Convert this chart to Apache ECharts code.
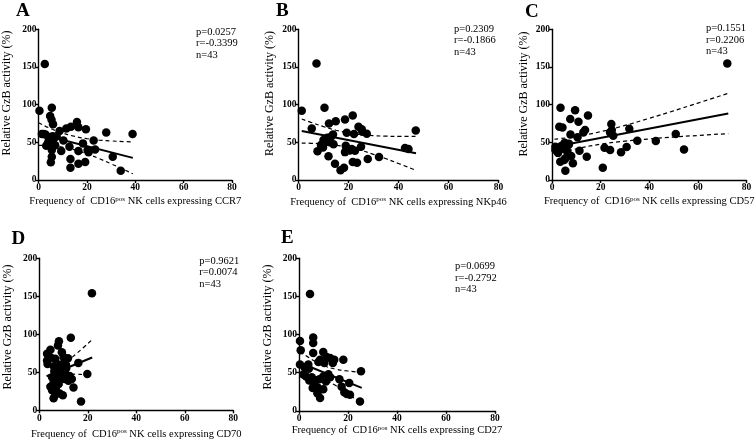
<!DOCTYPE html>
<html><head><meta charset="utf-8">
<script src="https://cdn.jsdelivr.net/npm/echarts@6/dist/echarts.min.js"></script>
<style>html,body{margin:0;padding:0;background:#fff}#c{width:755px;height:443px}</style>
</head><body><div id="c"></div>
<script>
// ---------- data ----------
const xTicks = [0, 20, 40, 60, 80];
const yTicks = [0, 50, 100, 150, 200];
const panelLetters = ['A', 'B', 'C', 'D', 'E'];
const markers = ['CCR7', 'NKp46', 'CD57', 'CD70', 'CD27'];
const yTitle = 'Relative GzB activity (%)';
const pValues = ['0.0257', '0.2309', '0.1551', '0.9621', '0.0699'];
const rValues = ['-0.3399', '-0.1866', '0.2206', '0.0074', '-0.2792'];
const nValues = [43, 43, 43, 43, 43];

const xA = [2.6,0.4,5.5,4.8,5.4,6,1.4,2.9,8.7,11.5,13.4,15.9,16.5,19.6,28,38.9,22.8,18.4,10.3,6.9,3.2,5.5,9.4,12.8,16.5,20.3,20.7,23.4,5.5,5.1,13.2,30.7,16.5,19.3,13.2,34,4.2,5.8,7.5,4,2.2,6.4,3.8];
const yA = [154,92,96,85,80,74,61,60.5,65,68.5,70.6,77,70,67.5,63,61,52.5,48.6,52.5,46,45.4,39.7,38.4,44,38.4,39.7,36.7,40.6,31,23.4,27.8,30.9,21.6,23.8,16.3,12.3,57,58,58,50,61,55,47.5];
const xB = [7.2,1.3,10.4,5.3,12.2,14.9,18.6,21.7,24,25.3,19.3,22.2,27.3,46.9,42.6,44,32.2,27.7,21.7,23.4,14.6,18.2,16.8,12,18.9,18.6,22.6,25,7.6,9,10.6,12,13,13.8,14,10,19.3,21.3,11.5,12.5,25.5,20.5,9.8];
const yB = [154.5,92,96,68.5,75,78,80.4,85.7,70.6,67.5,62.6,61,61.3,65.8,42.4,41,30.5,27.8,23.8,22.9,21.6,16.3,12.8,31.4,45.4,37,38.8,44,38,46.4,49.9,53,57.4,60.5,47.3,53,42,41,56,50,64,39,43];
const xC = [72.1,3.5,9.5,7.5,10.9,14.8,3,4.3,7.6,12.9,13.6,10.5,24.4,24.6,23.9,25.2,31.8,21.6,23.9,28.4,30.7,20.9,1.4,1.4,5.2,6.8,11.3,7.9,8.6,14.3,5.5,3.4,5,5.5,6.3,50.9,35.1,42.7,54.3,3.8,4.5,2.5,7];
const yC = [154.5,96,92.7,80.8,77.2,85.7,70.6,69.8,60.5,63.2,66.2,56.6,74.2,66.2,63.2,58.7,68,42.8,39.7,36.7,43.7,16.3,39.7,44,49.4,46.4,38.8,31.8,22.1,30.9,28.7,24.2,26.5,12.3,37.5,61,52,51.7,40.6,45,42,36,48];
const xD = [21.7,13,8.1,7.7,4.6,3.2,3.2,3.4,6.6,9.3,11.8,10.3,16.1,7.3,9.1,11.1,6.2,19.8,5.3,7,10.4,12,13.4,5.9,8,14.1,4.6,5.3,8.4,9.7,5.9,17.2,6.6,9.3,10.8,8.5,6,12.5,7.8,4.8,11,10,6.8];
const yD = [154,95.6,90.7,85.4,79.6,74.3,65.5,61,67.7,76.5,68.6,63.3,62.4,55.8,52.2,55.3,51.3,47.8,43.4,39.8,41.2,38.9,41.2,36.7,34.5,30.1,31,26.5,22.1,19.9,15.9,11.5,21.2,43.4,47,60,58,45,46,69,60,70,28];
const xE = [4.5,5.8,5.8,0.4,0.7,5.8,9.9,11.3,8.6,12.7,14.4,18.1,10.3,7.9,13.8,0.4,3.8,2.4,25.3,2.9,5.2,6.1,8.3,9.9,11,12.7,16.5,20.5,17.4,7.5,5.6,9.9,7.5,18.5,19.5,20.8,8.6,24.9,6.1,4.2,1.8,4,12];
const yE = [153.3,96,89,91.6,79.3,75.8,77,70.5,67,69.2,67,67,62.6,63.9,62.6,60.8,60.8,56.4,52,45,44,39.6,41.4,45,38.3,44,41.4,36.6,31.7,30.8,30,28.2,23,24.2,22,21.1,16.7,12.3,34.4,39.6,47.6,55,48];

// regression lines and 95% bands
const fitXA = [0.3, 39], fitYA = [61, 29.4];
const bandXA = [0, 5, 10, 15, 20, 25, 30, 35, 39];
const upperA = [76, 68.3, 62.4, 57.9, 54.9, 53, 51.9, 51, 50.6];
const lowerA = [46, 45.7, 43.4, 39.9, 34.7, 28.5, 21.5, 14.3, 8.2];
const fitXB = [1.3, 47], fitYB = [65, 35.4];
const bandXB = [1.3, 5, 10, 15, 20, 25, 30, 35, 40, 47];
const upperB = [81, 76.5, 70.9, 66, 62.4, 60.1, 58.8, 58.2, 57.9, 57.9];
const lowerB = [49, 48.7, 47.9, 46.2, 43.4, 39.3, 34, 28.2, 21.9, 12.9];
const fitXC = [1, 72.5], fitYC = [44, 88.3];
const bandXC = [1, 10, 20, 30, 40, 50, 60, 72.5];
const upperC = [54.1, 57.9, 64.1, 72.4, 81.9, 91.8, 102.1, 115];
const lowerC = [33.9, 41.3, 47.5, 51.6, 54.5, 57, 59.1, 61.6];
const fitXD = [3, 21.8], fitYD = [44.8, 69.5];
const bandXD = [3, 6, 9, 12, 15, 18, 21.8];
const upperD = [57.9, 58.2, 60.7, 66.1, 73.7, 82, 93];
const lowerD = [31.7, 39.2, 44.7, 47.1, 47.5, 47, 46];
const fitXE = [0.4, 25.6], fitYE = [63, 30];
const bandXE = [0.4, 5, 10, 15, 20, 25.6];
const upperE = [77.5, 67.8, 59.4, 54.7, 52.2, 50.5];
const lowerE = [48.5, 46.2, 41.4, 33.1, 22.4, 9.5];

// ---------- layout ----------
const grids = [
  {left: 38.5, top: 29.3, width: 193.5, height: 150.7},
  {left: 298.5, top: 29.3, width: 200, height: 150.7},
  {left: 552, top: 29.3, width: 194.5, height: 150.7},
  {left: 39.3, top: 258.3, width: 194, height: 152},
  {left: 299, top: 258.3, width: 196, height: 152.5}
];
const xNameGaps = [15.5, 16, 15.5, 17.5, 12.5];
const yNamePos = [[6.5, 93], [270, 93.5], [524, 94], [8, 327], [267.5, 327]];
const letterPos = [[16, 11], [276, 10.5], [525, 11.5], [11.5, 239], [281, 238]];
const statPos = [[196, 32.7], [454, 29.5], [706, 29], [199.3, 261.7], [455, 267]];

const xs = [xA, xB, xC, xD, xE], ys = [yA, yB, yC, yD, yE];
const fitX = [fitXA, fitXB, fitXC, fitXD, fitXE], fitY = [fitYA, fitYB, fitYC, fitYD, fitYE];
const bandX = [bandXA, bandXB, bandXC, bandXD, bandXE];
const uppers = [upperA, upperB, upperC, upperD, upperE];
const lowers = [lowerA, lowerB, lowerC, lowerD, lowerE];

const serif = '"Liberation Serif", "Times New Roman", serif';
const zip = (a, b) => a.map((v, i) => [v, b[i]]);

const option = {
  animation: false,
  backgroundColor: '#fff',
  grid: grids.map(g => Object.assign({outerBoundsMode: 'none', containLabel: false}, g)),
  xAxis: grids.map((g, i) => ({
    gridIndex: i, type: 'value', min: xTicks[0], max: xTicks[xTicks.length - 1], interval: xTicks[1] - xTicks[0],
    axisLine: {show: true, onZero: false, lineStyle: {color: '#000', width: 1.4}},
    axisTick: {show: true, length: 3, lineStyle: {color: '#000', width: 1.4}},
    axisLabel: {color: '#000', fontFamily: serif, fontWeight: 'bold', fontSize: 9.5, margin: 3},
    splitLine: {show: false},
    name: 'Frequency of  CD16{sup|pos} NK cells expressing ' + markers[i],
    nameLocation: 'middle', nameGap: xNameGaps[i],
    nameTextStyle: {color: '#000', fontFamily: serif, fontSize: 10.5,
      rich: {sup: {fontSize: 7, fontFamily: serif, color: '#000', verticalAlign: 'top', padding: [0, 0, 5, 0]}}}
  })),
  yAxis: grids.map((g, i) => ({
    gridIndex: i, type: 'value', min: yTicks[0], max: yTicks[yTicks.length - 1], interval: yTicks[1] - yTicks[0],
    axisLine: {show: true, onZero: false, lineStyle: {color: '#000', width: 1.4}},
    axisTick: {show: true, length: 3, lineStyle: {color: '#000', width: 1.4}},
    axisLabel: {color: '#000', fontFamily: serif, fontWeight: 'bold', fontSize: 9.5, margin: 2},
    splitLine: {show: false}
  })),
  series: [],
  graphic: []
};

for (let i = 0; i < 5; i++) {
  option.series.push({
    type: 'scatter', xAxisIndex: i, yAxisIndex: i, data: zip(xs[i], ys[i]),
    symbol: 'circle', symbolSize: 8.5, itemStyle: {color: '#000', opacity: 1}, z: 2,
    emphasis: {disabled: true}
  });
  option.series.push({
    type: 'line', xAxisIndex: i, yAxisIndex: i, data: zip(fitX[i], fitY[i]),
    showSymbol: false, lineStyle: {color: '#000', width: 2}, z: 3, emphasis: {disabled: true}
  });
  [uppers[i], lowers[i]].forEach(b => option.series.push({
    type: 'line', xAxisIndex: i, yAxisIndex: i, data: zip(bandX[i], b), smooth: true,
    showSymbol: false, lineStyle: {color: '#000', width: 1.2, type: [4, 3]}, z: 3, emphasis: {disabled: true}
  }));
  option.graphic.push({
    type: 'text', x: yNamePos[i][0], y: yNamePos[i][1], rotation: Math.PI / 2,
    style: {text: yTitle, font: '12px ' + serif, fill: '#000', align: 'center', verticalAlign: 'middle'}
  });
  option.graphic.push({
    type: 'text', left: letterPos[i][0], top: letterPos[i][1] - 9,
    style: {text: panelLetters[i], font: 'bold 19px ' + serif, fill: '#000'}
  });
  option.graphic.push({
    type: 'text', left: statPos[i][0], top: statPos[i][1] - 6,
    style: {text: 'p=' + pValues[i] + '\nr=' + rValues[i] + '\nn=' + nValues[i],
      font: '10.5px ' + serif, fill: '#000', lineHeight: 11.3}
  });
}

echarts.init(document.getElementById('c'), null, {renderer: 'canvas'}).setOption(option);
</script></body></html>
